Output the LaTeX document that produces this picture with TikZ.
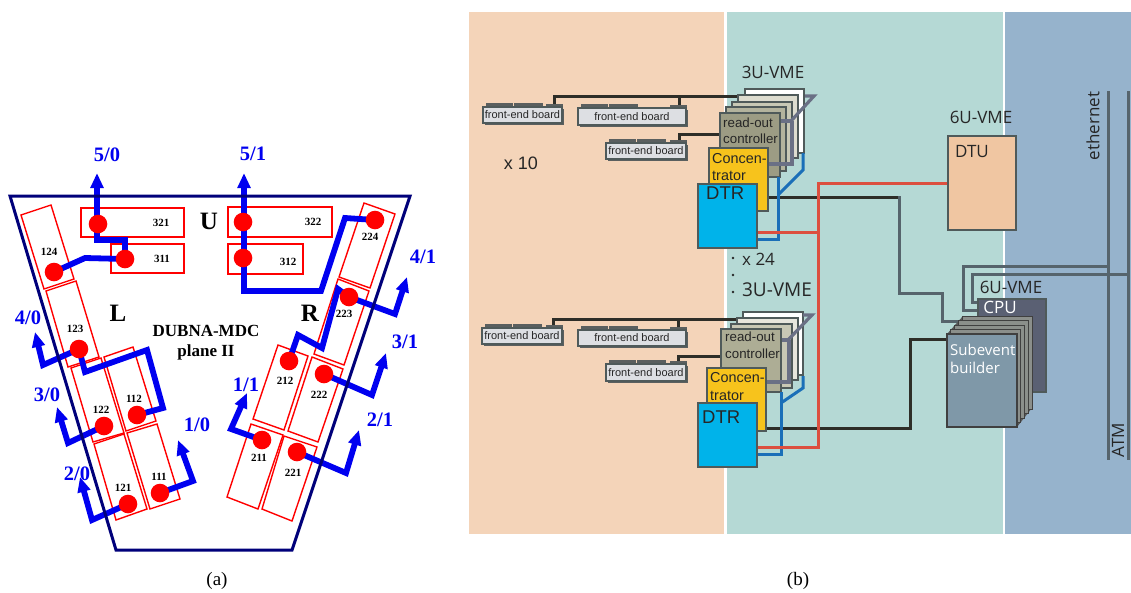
\documentclass[tikz,border=0pt]{standalone}
\usepackage{fontspec}
\setmainfont{Liberation Serif}
\newfontfamily\arsf{Liberation Sans}
\newfontfamily\opsf{Open Sans}
\usetikzlibrary{arrows.meta}
\definecolor{frame}{HTML}{00007A}
\definecolor{bbar}{HTML}{0000F0}
\definecolor{rred}{HTML}{FF0000}
\definecolor{porange}{HTML}{F4D4B9}
\definecolor{pteal}{HTML}{B5D9D5}
\definecolor{pblue}{HTML}{96B3CC}
\definecolor{wblack}{HTML}{2E2E28}
\definecolor{wgray}{HTML}{56646C}
\definecolor{wslate}{HTML}{6A7085}
\definecolor{wblue}{HTML}{1A6FB8}
\definecolor{wred}{HTML}{DC4F3F}
\definecolor{edge}{HTML}{4F5A5A}
\definecolor{febg}{HTML}{DDDFE3}
\definecolor{feback}{HTML}{5A5F5F}
\definecolor{roA}{HTML}{9C9C84}
\definecolor{roB}{HTML}{ADAD95}
\definecolor{cA}{HTML}{DDDCCF}
\definecolor{cB}{HTML}{C8C8B5}
\definecolor{cC}{HTML}{B3B39D}
\definecolor{conc}{HTML}{F7C31C}
\definecolor{dtr}{HTML}{00B3EA}
\definecolor{dtu}{HTML}{F0C6A2}
\definecolor{cpu}{HTML}{5A6073}
\definecolor{sbA}{HTML}{7F98A8}
\definecolor{sbB}{HTML}{8B8F8B}
\tikzset{
  frameline/.style={draw=frame,line width=3pt,line join=miter},
  modbox/.style={draw=rred,line width=1.4pt,line join=miter},
  bluepath/.style={draw=bbar,line width=5.8pt,line join=miter},
  bluearrow/.style={bluepath,-{Triangle[length=15pt,width=12.5pt]}},
  dot/.style={circle,fill=rred,inner sep=0pt,minimum size=18.6pt},
  chan/.style={text=bbar,font=\fontsize{20.5}{22}\selectfont\bfseries,inner sep=0pt},
  modnum/.style={font=\fontsize{11}{12}\selectfont\bfseries,inner sep=0pt},
  biglab/.style={font=\fontsize{25}{26}\selectfont\bfseries,inner sep=0pt},
  midlab/.style={font=\fontsize{17}{18}\selectfont\bfseries,inner sep=0pt},
  caplab/.style={font=\fontsize{19}{20}\selectfont,inner sep=0pt},
  feb/.style={draw=edge,line width=1.2pt,fill=febg,inner sep=0pt,font=\arsf\fontsize{11}{12}\selectfont,text=black!85},
  card/.style={draw=edge,line width=1.3pt,inner sep=0pt},
  tsans/.style={font=\arsf\fontsize{13.3}{14}\selectfont,text=black!85,inner sep=0pt,anchor=west},
  tconc/.style={font=\arsf\fontsize{14.4}{15}\selectfont,text=black!85,inner sep=0pt,anchor=west},
  tdtr/.style={font=\arsf\fontsize{18.5}{19}\selectfont,text=black!85,inner sep=0pt,anchor=west},
  topen/.style={font=\opsf\fontsize{17}{18}\selectfont,text=black!85,inner sep=0pt},
  wireblack/.style={draw=wblack,line width=3pt},
  wiregray/.style={draw=wgray,line width=3pt},
  wireslate/.style={draw=wslate,line width=3.2pt},
  wireblue/.style={draw=wblue,line width=3pt},
  wirered/.style={draw=wred,line width=3pt},
}
% board: name, left, top, right, bottom
\newcommand{\feboard}[5]{%
  \fill[feback] ({#2+3},{#3-4}) rectangle ({#2+30},{#3+1});
  \fill[feback] ({#2+30.5},{#3-4}) rectangle ({#2+60},{#3+1});
  \fill[feback] ({#4-16},{#3-3}) rectangle ({#4+1},{#3+1});
  \fill[feback] ({#2+2},{#3+2}) rectangle ({#4+2},{#5+2});
  \node[feb,minimum width={#4-#2},minimum height={#5-#3}] (#1) at ({(#2+#4)/2},{(#3+#5)/2}) {front-end board};
}
\begin{document}
\begin{tikzpicture}[x=1pt,y=-1pt]
\useasboundingbox (0,0) rectangle (1131,592);
% ---------- panel (a): modules
\draw[modbox] (81,208) rectangle (184,237);
\draw[modbox] (111,244) rectangle (184,273);
\draw[modbox] (228,207) rectangle (332,237);
\draw[modbox] (228,244) rectangle (303,274);
\draw[modbox] (21,215)--(51,205)--(74,279)--(44,289)--cycle;
\draw[modbox] (46,291)--(76,281)--(99,357)--(68,367)--cycle;
\draw[modbox] (71,368)--(101,358)--(124,433)--(93,442)--cycle;
\draw[modbox] (104,357)--(133,347)--(156,421)--(126,431)--cycle;
\draw[modbox] (94,444)--(124,434)--(147,509)--(116,520)--cycle;
\draw[modbox] (127,433)--(157,424)--(180,499)--(150,509)--cycle;
\draw[modbox] (364,203)--(395,214)--(370,288)--(339,277)--cycle;
\draw[modbox] (338,279)--(369,291)--(344,365)--(314,354)--cycle;
\draw[modbox] (278,345)--(308,356)--(284,430)--(253,419)--cycle;
\draw[modbox] (312,357)--(343,369)--(318,442)--(288,431)--cycle;
\draw[modbox] (251,424)--(283,435)--(258,509)--(227,497)--cycle;
\draw[modbox] (284,436)--(317,447)--(292,521)--(262,509)--cycle;
% dot positions
\coordinate (c321) at (98,224);
\coordinate (c311) at (125,259);
\coordinate (c124) at (54,272);
\coordinate (c123) at (79,349);
\coordinate (c112) at (137,415);
\coordinate (c122) at (104,426);
\coordinate (c121) at (128,504);
\coordinate (c111) at (160,493);
\coordinate (c322) at (243,222);
\coordinate (c312) at (243,258);
\coordinate (c224) at (375,220);
\coordinate (c223) at (349,297);
\coordinate (c212) at (289,361);
\coordinate (c222) at (324,374);
\coordinate (c211) at (262,440);
\coordinate (c221) at (297,452);
% output tips
\coordinate (t50) at (97,173);
\coordinate (t51) at (244,173);
\coordinate (t40) at (35,332);
\coordinate (t30) at (57,407);
\coordinate (t20) at (80,477);
\coordinate (t10) at (178,440);
\coordinate (t41) at (407,277);
\coordinate (t31) at (386,353);
\coordinate (t21) at (359,430);
\coordinate (t11) at (247,393);
% blue routes
\draw[bluearrow] (c311)--(125,240)--(97,240)--(t50);
\draw[bluepath] (c311)--(85,258)--(c124);
\draw[bluearrow] (c123)--(43,365)--(t40);
\draw[bluepath] (c123)--(85,372)--(147,350)--(163,408)--(c112);
\draw[bluearrow] (c122)--(68,443)--(t30);
\draw[bluearrow] (c121)--(92,520)--(t20);
\draw[bluearrow] (c111)--(193,481)--(t10);
\draw[bluearrow] (c224)--(345,218)--(321,291)--(244,291)--(t51);
\draw[bluearrow] (c223)--(395,314)--(t41);
\draw[bluepath] (c223)--(338,289)--(322,348)--(298,335)--(c212);
\draw[bluearrow] (c222)--(372,395)--(t31);
\draw[bluearrow] (c221)--(346,473)--(t21);
\draw[bluearrow] (c211)--(231,429)--(t11);
% frame
\draw[frameline] (10,196)--(410,196)--(292,550)--(116,550)--cycle;
% dots
\foreach \n in {321,311,124,123,112,122,121,111,322,312,224,223,212,222,211,221}
  \node[dot] (d\n) at (c\n) {};
% module numbers
\node[modnum] (n321) at (161,223) {321};
\node[modnum] (n311) at (162,259) {311};
\node[modnum] (n124) at (49,252) {124};
\node[modnum] (n123) at (75,329) {123};
\node[modnum] (n122) at (101,410) {122};
\node[modnum] (n112) at (134,399) {112};
\node[modnum] (n121) at (123,488) {121};
\node[modnum] (n111) at (159,477) {111};
\node[modnum] (n322) at (313,222) {322};
\node[modnum] (n312) at (288,262) {312};
\node[modnum] (n224) at (370,237) {224};
\node[modnum] (n223) at (344,314) {223};
\node[modnum] (n212) at (285,381) {212};
\node[modnum] (n222) at (319,395) {222};
\node[modnum] (n211) at (259,458) {211};
\node[modnum] (n221) at (293,473) {221};
% channel labels
\node[chan] (l50) at (107,155) {5/0};
\node[chan] (l51) at (253,154) {5/1};
\node[chan] (l41) at (423,257) {4/1};
\node[chan] (l40) at (28,318) {4/0};
\node[chan] (l30) at (47,395) {3/0};
\node[chan] (l20) at (77,474) {2/0};
\node[chan] (l10) at (197,425) {1/0};
\node[chan] (l31) at (405,342) {3/1};
\node[chan] (l21) at (380,420) {2/1};
\node[chan] (l11) at (246,385) {1/1};
\node[biglab] (lU) at (209,221) {U};
\node[biglab] (lL) at (118,313) {L};
\node[biglab] (lR) at (310,313) {R};
\node[midlab] (lD) at (206,331) {DUBNA-MDC};
\node[midlab] (lP) at (206,352) {plane II};
\node[caplab] (capa) at (217,581) {(a)};
\node[caplab] (capb) at (798,581) {(b)};
% ---------- panel (b): background
\fill[porange] (469,12) rectangle (724,534);
\fill[pteal] (726.5,12) rectangle (1003,534);
\fill[pblue] (1005,12) rectangle (1131,534);
\node[font=\arsf\fontsize{18}{19}\selectfont,text=black!85,inner sep=0pt] (x10) at (521,163) {x 10};
% wires under the stacks
\coordinate (ubus) at (740,96);
\coordinate (lbus) at (738,319);
\draw[wireblack] (554,105)--(554,96)--(ubus);
\draw[wireblack] (679,96)--(679,107);
\draw[wireblack] (679,142)--(679,134)--(722,134);
\draw[wireblack] (553,327)--(553,319)--(lbus);
\draw[wireblack] (678,319)--(678,329);
\draw[wireblack] (678,363)--(678,356)--(722,356);
% front-end boards
\feboard{feA}{483}{107}{562}{123}
\feboard{feB}{578}{108}{686}{125}
\feboard{feC}{606}{143}{686}{159}
\feboard{feD}{482}{328}{562}{344}
\feboard{feE}{578}{330}{686}{346}
\feboard{feF}{606}{364}{686}{381}
% upper stack
\node[card,fill=white,minimum width=59pt,minimum height=64pt] (uc1) at (774.5,121) {};
\node[card,fill=cA,minimum width=60pt,minimum height=63pt] (uc2) at (768,126.5) {};
\node[card,fill=cB,minimum width=60pt,minimum height=63pt] (uc3) at (762,133.5) {};
\node[card,fill=cC,minimum width=60pt,minimum height=64pt] (uc4) at (756,139) {};
\node[card,fill=roA,minimum width=60pt,minimum height=64pt] (uro) at (750,145) {};
\node[card,fill=conc,minimum width=59pt,minimum height=63pt] (ucn) at (738.5,179.5) {};
% lower stack
\node[card,fill=white,minimum width=60pt,minimum height=63pt] (lc1) at (773,343.5) {};
\node[card,fill=cA!70!white,minimum width=61pt,minimum height=62pt] (lc2) at (767.5,349) {};
\node[card,fill=cB,minimum width=61pt,minimum height=64pt] (lc3) at (761.5,356) {};
\node[card,fill=roB,minimum width=60pt,minimum height=63pt] (lro) at (751,360.5) {};
\node[card,fill=conc,minimum width=59pt,minimum height=63pt] (lcn) at (736.5,399.5) {};
% wires from concentrators
\draw[wireblack] (ucn.east |- 0,197)--(899,197);
\draw[wireblack] (lcn.east |- 0,428)--(910,428)--(910,339)--(947,339);
\draw[wiregray] (899,196)--(899,293)--(942,293)--(942,321)--(965,321);
% DTR
\node[card,fill=dtr,minimum width=59pt,minimum height=64pt] (udt) at (727.5,216) {};
\node[card,fill=dtr,minimum width=59pt,minimum height=64pt] (ldt) at (727.5,435) {};
% blue links
\draw[wireblue] (udt.east |- 0,239)--(778,239)--(778,177);
\draw[wireblue] (778,195)--(803,170)--(803,153);
\draw[wireblue] (ldt.east |- 0,454)--(781,454)--(781,392);
\draw[wireblue] (781,403)--(803,388)--(803,376);
% slate links
\draw[wireslate] (uro.east |- 0,121)--(792,121);
\draw[wireslate] (791,121)--(814,96)--(805,96);
\draw[wireslate] (ucn.east |- 0,164)--(792,164)--(792,121);
\draw[wireslate] (lro.east |- 0,340)--(789,340);
\draw[wireslate] (788,340)--(812,315)--(803,315);
\draw[wireslate] (lcn.east |- 0,382)--(789,382)--(789,340);
% DTU, CPU, builder
\node[card,fill=dtu,minimum width=68pt,minimum height=94pt] (dtuB) at (982,183) {};
\node[card,fill=cpu,minimum width=68pt,minimum height=93pt] (cpuB) at (1012,345.5) {};
\draw[wirered] (udt.east |- 0,232)--(818,232);
\draw[wirered] (dtuB.west |- 0,183)--(818,183)--(818,447)--(ldt.east |- 0,447);
% network
\draw[wiregray] (1108,91)--(1108,460);
\draw[wiregray] (1128,91)--(1128,460);
\draw[wiregray] (1108,266)--(963,266)--(963,310)--(cpuB.west |- 0,310);
\draw[wiregray] (1128,274)--(972,274)--(972,302)--(cpuB.west |- 0,302);
% builder layers
\fill[black!65] (947,334)--(963,316)--(1032,316)--(1032,408)--(1017,427)--cycle;
\foreach \d in {4,3,2,1}{
  \draw[fill=sbB,draw=black!75,line width=.9pt] ({947+\d*4-1},{334-\d*4.5}) rectangle ({1017+\d*4-1},{427-\d*4.5});
}
\node[card,fill=sbA,minimum width=70pt,minimum height=93pt,draw=black!75] (sub) at (982,380.5) {};
% texts
\node[tsans] (tr1) at (723,123) {read-out};
\node[tsans] (tr2) at (723,139) {controller};
\node[tconc] (tc1) at (712,159) {Concen-};
\node[tconc] (tc2) at (712,176) {trator};
\node[tdtr] (td1) at (706,193) {DTR};
\node[tsans] (tr3) at (725,337) {read-out};
\node[tsans] (tr4) at (725,354) {controller};
\node[tconc] (tc3) at (710,378) {Concen-};
\node[tconc] (tc4) at (710,396) {trator};
\node[tdtr] (td2) at (702,417) {DTR};
\node[topen] (v1) at (773,72) {3U-VME};
\node[topen,font=\opsf\fontsize{19}{20}\selectfont] (v2) at (777,290) {3U-VME};
\node[topen,anchor=west] (x24) at (742,259) {x 24};
\fill[black!85] (733,258) circle (1.3) (733,275) circle (1.3) (733,292) circle (1.3);
\node[topen] (v3) at (981,117) {6U-VME};
\node[topen] (v4) at (1011,287) {6U-VME};
\node[topen] (tdtu) at (972,152) {DTU};
\node[topen,text=white] (tcpu) at (1000,307) {CPU};
\node[topen,text=white,anchor=west,font=\opsf\fontsize{15}{16}\selectfont] (ts1) at (950,350) {Subevent};
\node[topen,text=white,anchor=west,font=\opsf\fontsize{15}{16}\selectfont] (ts2) at (950,368) {builder};
\node[topen,rotate=90] (te) at (1093,126) {ethernet};
\node[topen,rotate=90] (ta) at (1118,440) {ATM};
\end{tikzpicture}
\end{document}
